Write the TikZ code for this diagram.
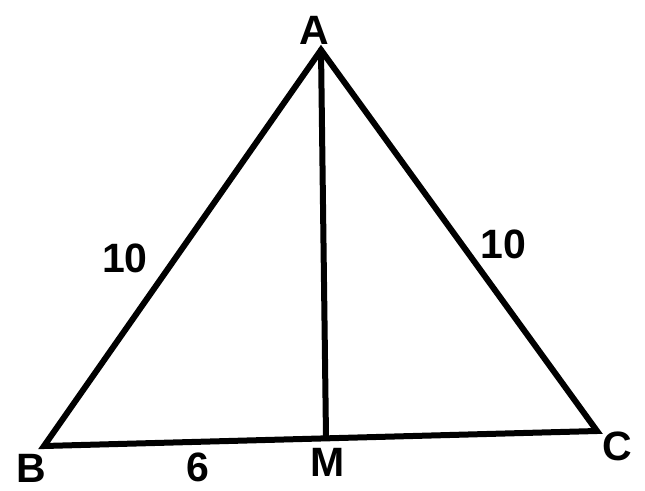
\documentclass[tikz,border=0pt]{standalone}
\usepackage{fontspec}
\setmainfont{Liberation Sans}
\begin{document}
\begin{tikzpicture}[x=1pt,y=-1pt,
  edge/.style={line width=6pt,line join=miter,line cap=round},
  lbl/.style={font=\fontsize{41}{43}\selectfont\bfseries,inner sep=0pt}]
\useasboundingbox (0,0) rectangle (645,490);
\fill[white] (0,0) rectangle (645,490);
\coordinate (A) at (321,50);
\coordinate (B) at (44,446);
\coordinate (C) at (597,431);
\coordinate (M) at (326,437);
\draw[edge] (B) -- (A) -- (C) -- cycle;
\draw[edge] (A) -- (M);
\node[lbl] (lA) at (314,30) {A};
\node[lbl] (lB) at (31,468) {B};
\node[lbl] (lC) at (617,446) {C};
\node[lbl] (lM) at (328,462) {M};
\node[lbl] (l6) at (198,467) {6};
\node[lbl] (l10a) at (125,258) {10};
\node[lbl] (l10b) at (503,244) {10};
\end{tikzpicture}
\end{document}
